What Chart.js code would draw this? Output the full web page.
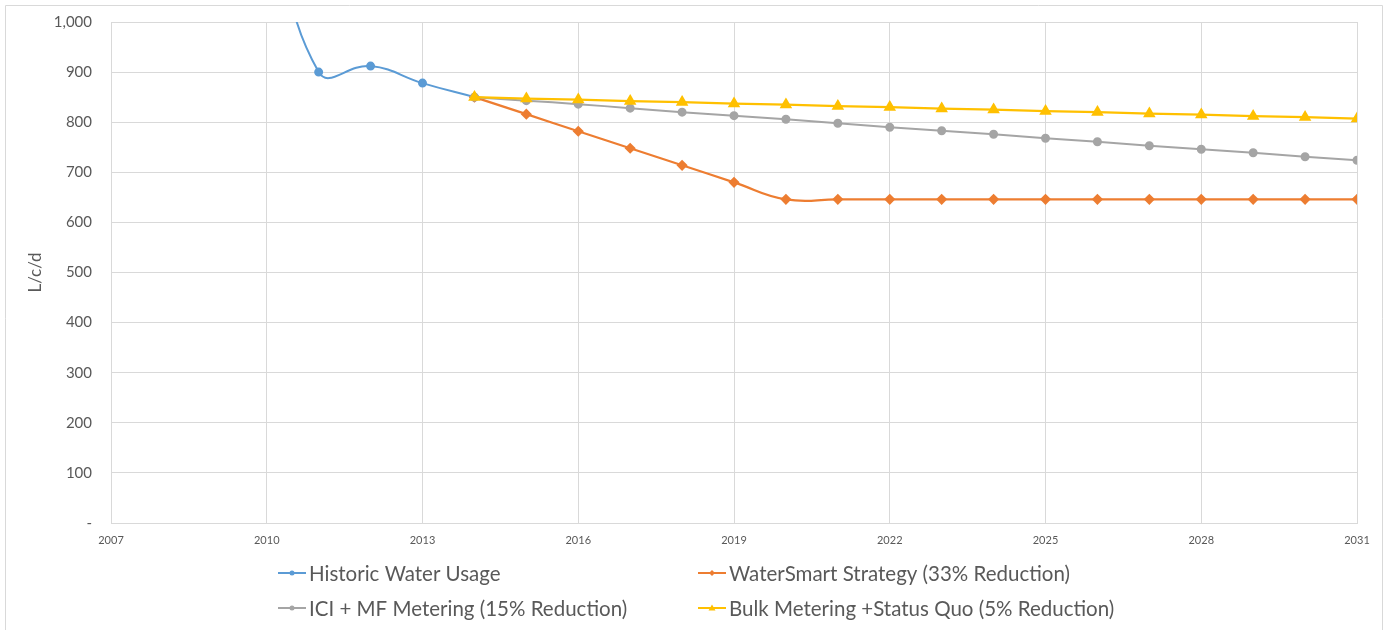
<!DOCTYPE html>
<html>
<head>
<meta charset="utf-8">
<script src="https://cdn.jsdelivr.net/npm/chart.js@4/dist/chart.umd.min.js"></script>
<style>
  html, body { margin: 0; padding: 0; background: #ffffff; }
  #wrap { position: relative; width: 1388px; height: 630px; }
  canvas { display: block; }
</style>
</head>
<body>
<div id="wrap"><canvas id="c" width="1388" height="630"></canvas></div>
<script>
// ---- Data ----
const historicYears = [2010, 2011, 2012, 2013, 2014];
const historicValues = [1280, 900, 912, 878, 850];

const projectionYears = [2014, 2015, 2016, 2017, 2018, 2019, 2020, 2021, 2022,
                         2023, 2024, 2025, 2026, 2027, 2028, 2029, 2030, 2031];
const waterSmartValues = [850, 816, 782, 748, 714, 680, 646, 646, 646,
                          646, 646, 646, 646, 646, 646, 646, 646, 646];
const iciMfValues = [850, 843, 836, 828, 820, 813, 806, 798, 790,
                     783, 776, 768, 761, 753, 746, 739, 731, 724];
const bulkValues = [850, 847, 845, 842, 840, 837, 835, 832, 830,
                    827, 825, 822, 820, 817, 815, 812, 810, 807];

const seriesLabels = [
  'Historic Water Usage',
  'WaterSmart Strategy (33% Reduction)',
  'ICI + MF Metering (15% Reduction)',
  'Bulk Metering +Status Quo (5% Reduction)'
];
const yAxisTitle = 'L/c/d';
const xTickMin = 2007, xTickMax = 2031, xTickStep = 3;
const yTickMin = 0, yTickMax = 1000, yTickStep = 100;

function pts(xs, ys) { return xs.map((x, i) => ({ x: x, y: ys[i] })); }

const FONT = "Lato, 'Open Sans', 'DejaVu Sans', sans-serif";
const TEXT = '#595959';
const GRID = '#d9d9d9';

const legendPlugin = {
  id: 'excelLegend',
  afterDraw(chart) {
    const ctx = chart.ctx;
    ctx.save();
    // outer frame
    ctx.strokeStyle = '#d9d9d9';
    ctx.lineWidth = 1;
    ctx.beginPath();
    ctx.moveTo(5.5, 640); ctx.lineTo(5.5, 5.5); ctx.lineTo(1382.5, 5.5); ctx.lineTo(1382.5, 640);
    ctx.stroke();
    // y axis title
    ctx.fillStyle = TEXT;
    ctx.font = "17px " + FONT;
    ctx.textAlign = 'center';
    ctx.textBaseline = 'middle';
    ctx.translate(36, (chart.chartArea.top + chart.chartArea.bottom) / 2);
    ctx.rotate(-Math.PI / 2);
    ctx.fillText(yAxisTitle, 0, 0);
    ctx.setTransform(1, 0, 0, 1, 0, 0);
    // legend (2 columns x 2 rows)
    const colX = [278, 698];
    const rowY = [573, 608];
    ctx.font = "20.5px " + FONT;
    ctx.textBaseline = 'middle';
    ctx.textAlign = 'left';
    chart.data.datasets.forEach((ds, i) => {
      const x = colX[i % 2], y = rowY[Math.floor(i / 2)];
      ctx.strokeStyle = ds.borderColor;
      ctx.lineWidth = 2;
      ctx.beginPath(); ctx.moveTo(x, y); ctx.lineTo(x + 28, y); ctx.stroke();
      ctx.fillStyle = ds.backgroundColor;
      const cx = x + 14;
      ctx.beginPath();
      if (ds.pointStyle === 'triangle') {
        ctx.moveTo(cx, y - 3.5); ctx.lineTo(cx + 3.5, y + 2.5); ctx.lineTo(cx - 3.5, y + 2.5); ctx.closePath();
      } else if (ds.pointStyle === 'rectRot') {
        ctx.moveTo(cx, y - 3); ctx.lineTo(cx + 3, y); ctx.lineTo(cx, y + 3); ctx.lineTo(cx - 3, y); ctx.closePath();
      } else {
        ctx.arc(cx, y, 2.5, 0, Math.PI * 2);
      }
      ctx.fill();
      ctx.fillStyle = TEXT;
      ctx.fillText(ds.label, x + 31, y + 1);
    });
    ctx.restore();
  }
};

new Chart(document.getElementById('c'), {
  type: 'line',
  data: {
    datasets: [
      { label: seriesLabels[0], data: pts(historicYears, historicValues),
        borderColor: '#5B9BD5', backgroundColor: '#5B9BD5', pointStyle: 'circle',
        pointRadius: 3.5, borderWidth: 2, order: 3 },
      { label: seriesLabels[1], data: pts(projectionYears, waterSmartValues),
        borderColor: '#ED7D31', backgroundColor: '#ED7D31', pointStyle: 'rectRot',
        pointRadius: 4, borderWidth: 2.25, order: 2 },
      { label: seriesLabels[2], data: pts(projectionYears, iciMfValues),
        borderColor: '#A5A5A5', backgroundColor: '#A5A5A5', pointStyle: 'circle',
        pointRadius: 3.5, borderWidth: 2, order: 1 },
      { label: seriesLabels[3], data: pts(projectionYears, bulkValues),
        borderColor: '#FFC000', backgroundColor: '#FFC000', pointStyle: 'triangle',
        pointRadius: 5, borderWidth: 2.25, order: 0 }
    ]
  },
  options: {
    responsive: false,
    animation: false,
    devicePixelRatio: 1,
    layout: { padding: { left: 0, right: 31, top: 22, bottom: 77 } },
    elements: {
      line: { tension: 0.45, capBezierPoints: false, fill: false },
      point: { borderWidth: 0, hoverRadius: 4 }
    },
    plugins: {
      legend: { display: false },
      tooltip: { enabled: false }
    },
    scales: {
      x: {
        type: 'linear',
        min: xTickMin, max: xTickMax,
        afterFit(s) { s.height = 30; s.paddingLeft = 0; s.paddingRight = 0; },
        ticks: {
          stepSize: xTickStep,
          color: TEXT,
          font: { family: "'Liberation Sans Narrow', " + FONT, size: 11 },
          padding: 11,
          maxRotation: 0,
          autoSkip: false,
          callback: (v) => String(v)
        },
        grid: { color: GRID, drawTicks: false, lineWidth: 1 },
        border: { color: GRID, width: 1 }
      },
      y: {
        min: yTickMin, max: yTickMax,
        afterFit(s) { s.width = 111; s.paddingTop = 0; s.paddingBottom = 0; },
        ticks: {
          stepSize: yTickStep,
          color: TEXT,
          font: { family: FONT, size: 15 },
          padding: 19,
          callback: (v) => v === 0 ? '-' : v.toLocaleString('en-US')
        },
        grid: { color: GRID, drawTicks: false, lineWidth: 1 },
        border: { display: false },
        title: { display: false }
      }
    }
  },
  plugins: [legendPlugin]
});
</script>
</body>
</html>
